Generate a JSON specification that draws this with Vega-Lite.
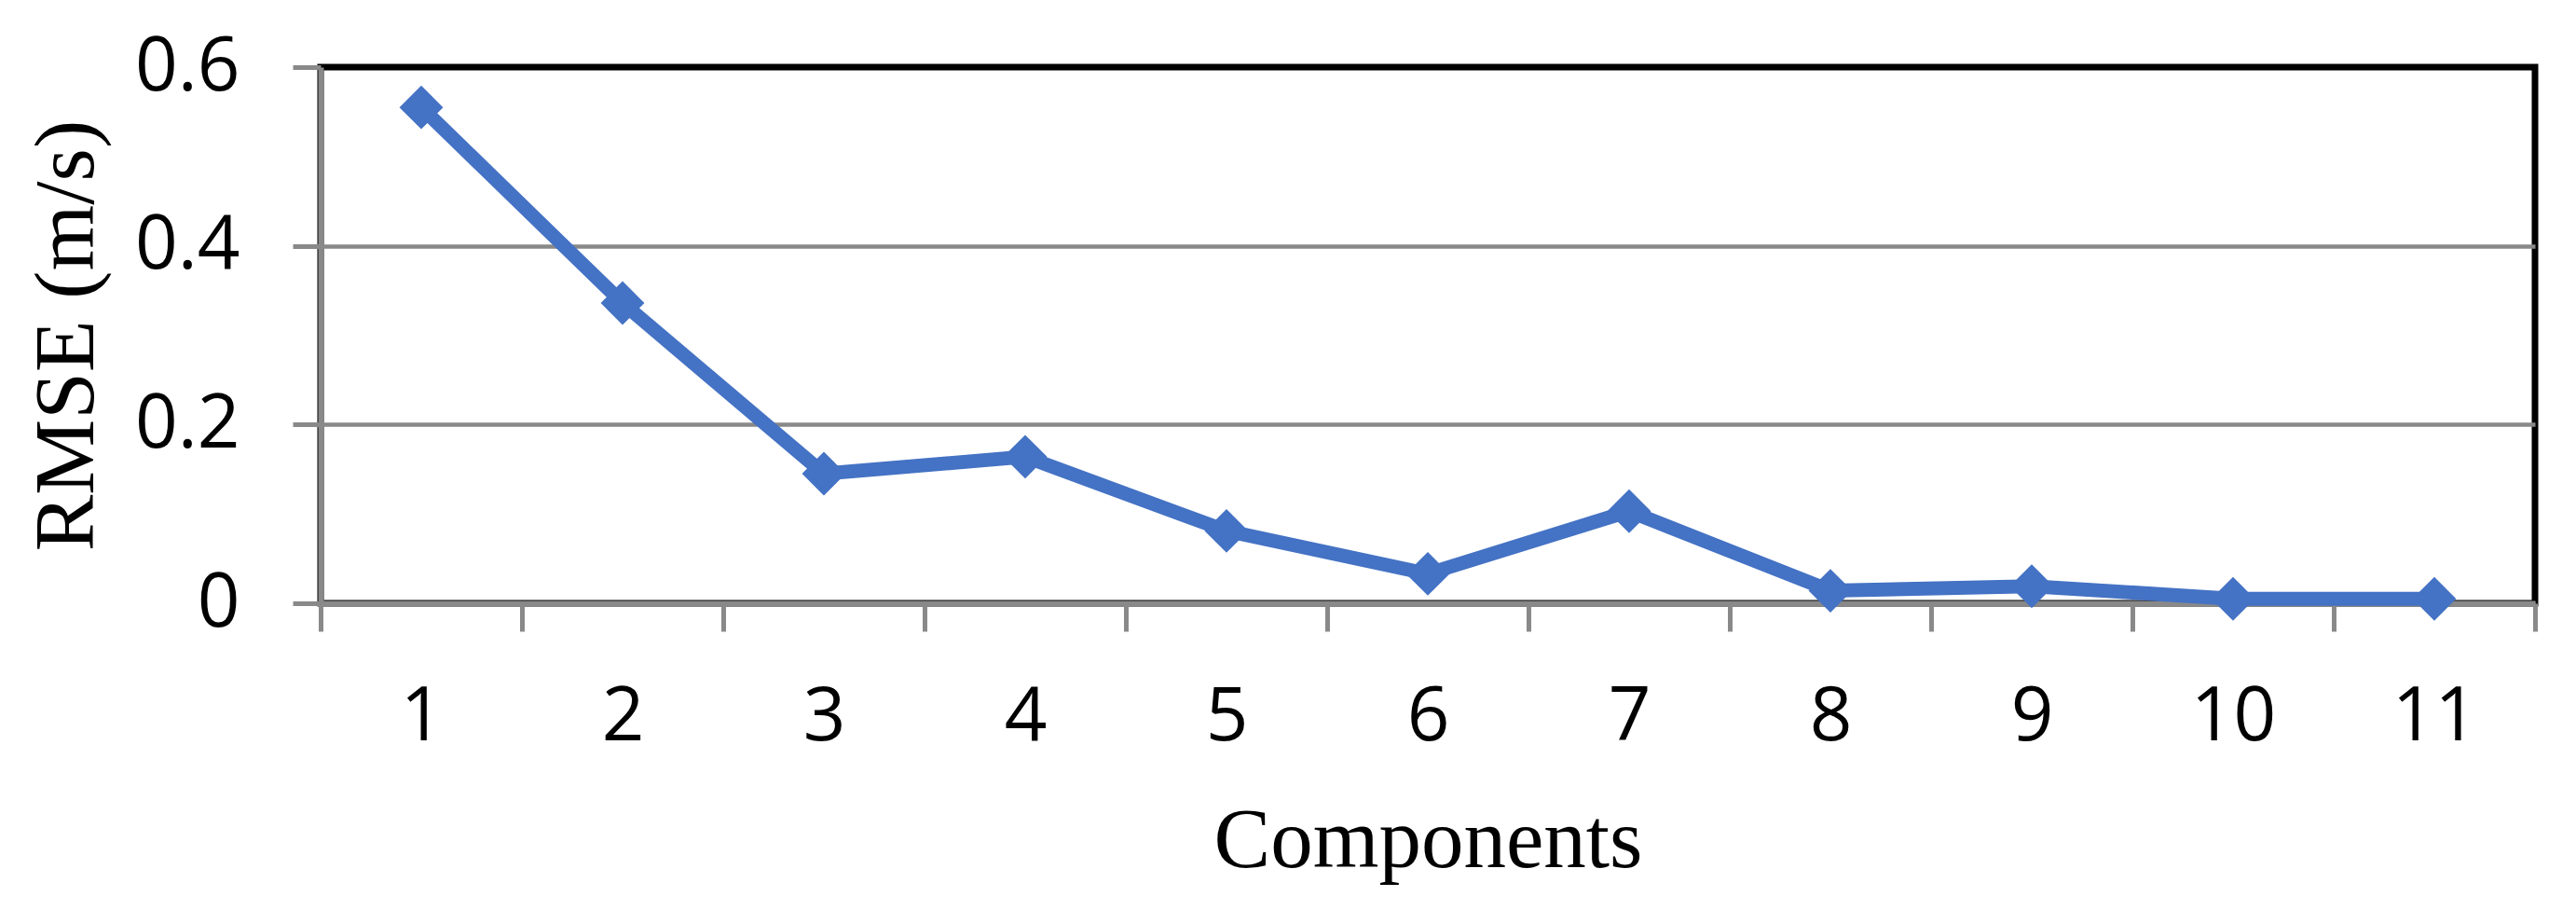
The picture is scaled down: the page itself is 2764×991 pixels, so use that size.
{
  "$schema": "https://vega.github.io/schema/vega-lite/v6.json",
  "width": 2376,
  "height": 575,
  "autosize": {"type": "none"},
  "padding": {"left": 344, "top": 72, "right": 44, "bottom": 344},
  "background": "white",
  "config": {
    "view": {"stroke": "black", "strokeWidth": 7},
    "axis": {
      "labelFont": "Open Sans",
      "labelFontSize": 80,
      "labelColor": "black",
      "titleFont": "Liberation Serif",
      "titleFontSize": 91,
      "titleFontWeight": "normal",
      "titleColor": "black",
      "domainColor": "#898989",
      "domainWidth": 6,
      "tickColor": "#898989",
      "tickWidth": 5,
      "tickSize": 30,
      "gridColor": "#898989",
      "gridWidth": 4.5
    }
  },
  "data": {
    "values": [
      {"component": 1, "rmse": 0.555},
      {"component": 2, "rmse": 0.336},
      {"component": 3, "rmse": 0.145},
      {"component": 4, "rmse": 0.164},
      {"component": 5, "rmse": 0.081},
      {"component": 6, "rmse": 0.033},
      {"component": 7, "rmse": 0.103},
      {"component": 8, "rmse": 0.014},
      {"component": 9, "rmse": 0.019},
      {"component": 10, "rmse": 0.005},
      {"component": 11, "rmse": 0.005}
    ]
  },
  "encoding": {
    "x": {
      "field": "component",
      "type": "quantitative",
      "scale": {"domain": [0.5, 11.5], "nice": false, "zero": false},
      "axis": {
        "title": "Components",
        "values": [0.5, 1.5, 2.5, 3.5, 4.5, 5.5, 6.5, 7.5, 8.5, 9.5, 10.5, 11.5],
        "labelExpr": "datum.value < 11 ? format(datum.value + 0.5, 'd') : ''",
        "labelOffset": 108,
        "labelAlign": "center",
        "labelBaseline": "alphabetic",
        "labelPadding": 116,
        "labelOverlap": false,
        "labelFlush": false,
        "labelBound": false,
        "grid": false,
        "titleBaseline": "alphabetic",
        "titleX": 1188,
        "titleY": 282,
        "titleAlign": "center"
      }
    },
    "y": {
      "field": "rmse",
      "type": "quantitative",
      "scale": {"domain": [0, 0.6], "nice": false},
      "axis": {
        "title": "RMSE (m/s)",
        "values": [0, 0.2, 0.4, 0.6],
        "labelExpr": "datum.value == 0 ? '0' : format(datum.value, '.1f')",
        "labelPadding": 57,
        "labelOverlap": false,
        "labelFlush": false,
        "labelBound": false,
        "grid": true,
        "gridColor": {"condition": {"test": "datum.value >= 0.59", "value": "transparent"}, "value": "#898989"},
        "titleBaseline": "alphabetic",
        "titleAngle": -90,
        "titleX": -245,
        "titleY": 287.5,
        "titleAlign": "center"
      }
    }
  },
  "layer": [
    {"mark": {"type": "line", "color": "#4472C4", "strokeWidth": 15}},
    {"mark": {"type": "point", "shape": "diamond", "size": 2200, "filled": true, "color": "#4472C4", "opacity": 1}}
  ]
}
